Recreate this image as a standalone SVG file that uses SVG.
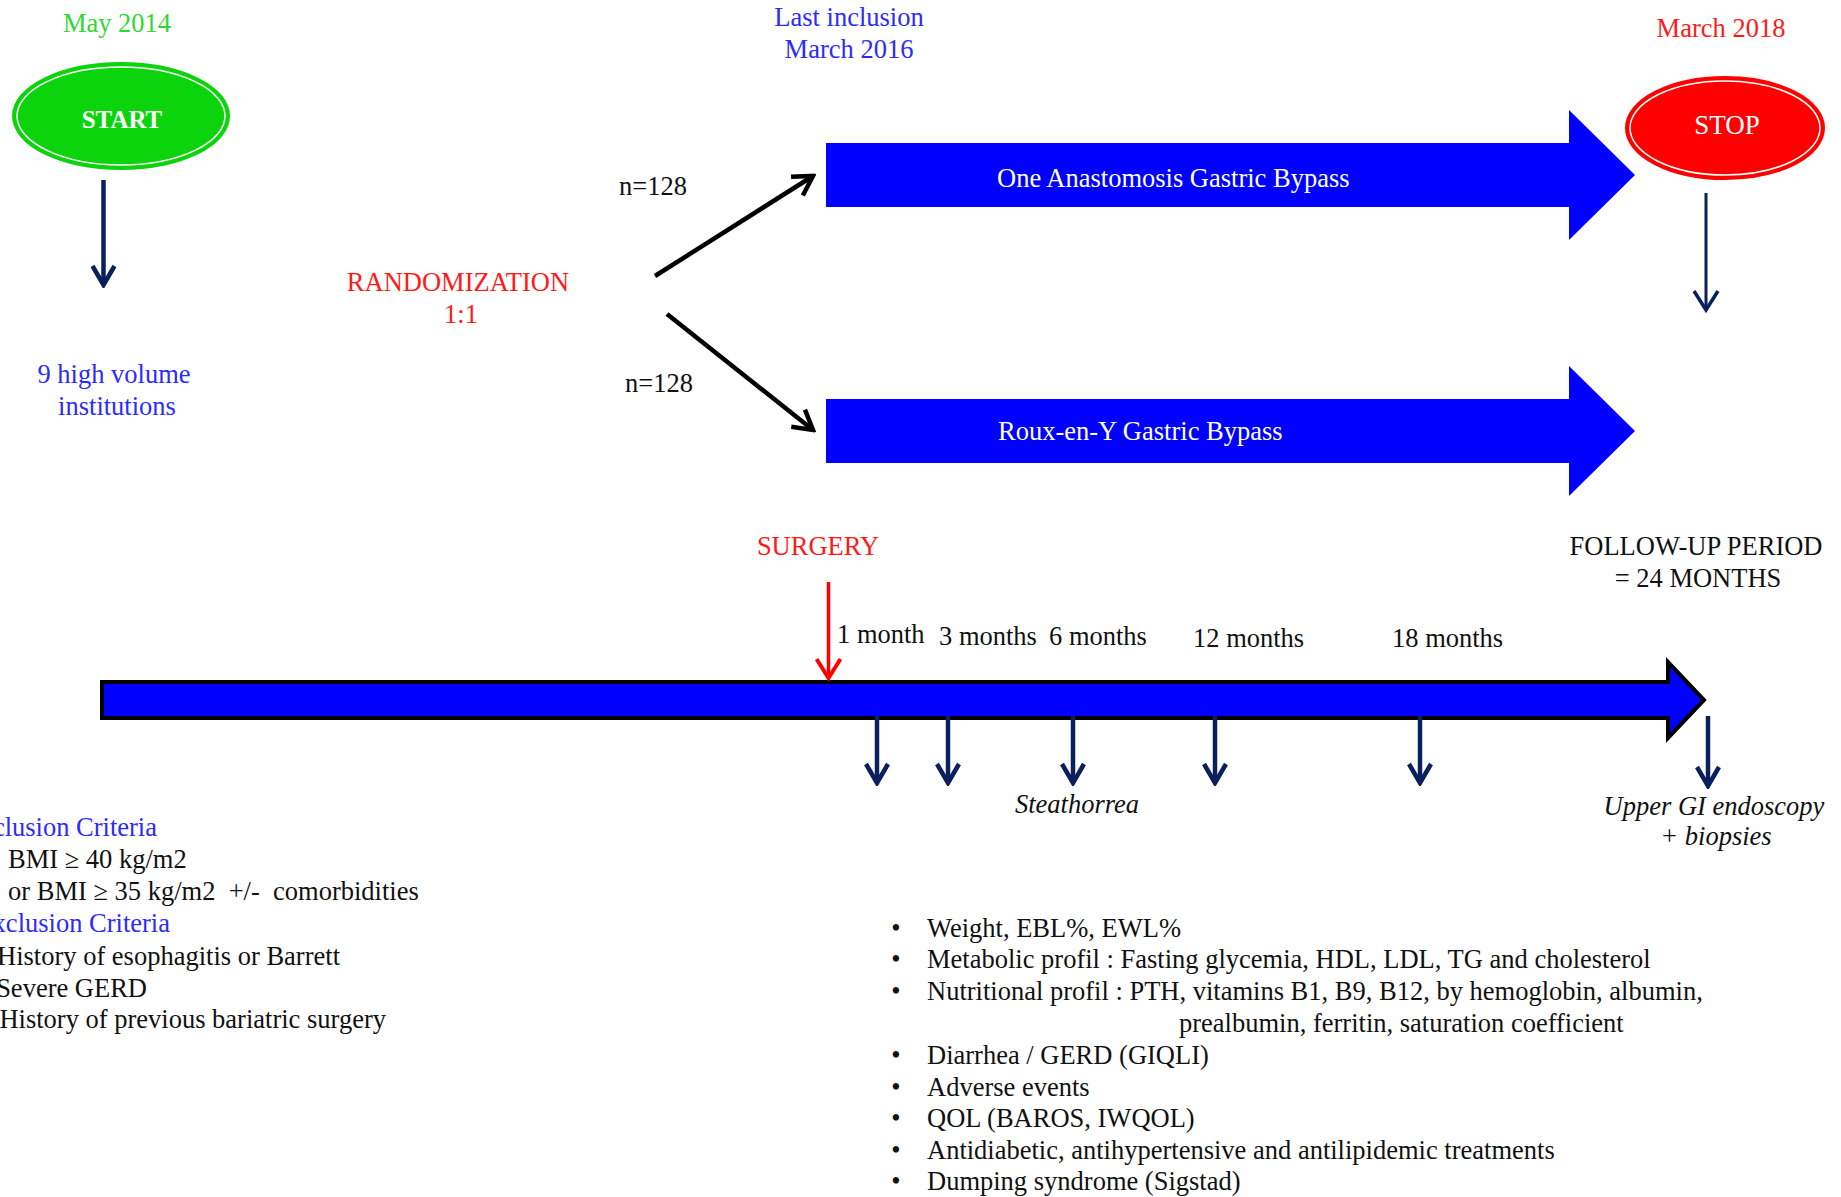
<svg xmlns="http://www.w3.org/2000/svg" width="1841" height="1197" viewBox="0 0 1841 1197">
<defs>
<style>
text{font-family:"Liberation Serif","Times New Roman",serif;font-size:26.5px;}
.blk{fill:#111;}
.blue{fill:#2b2bff;}
.red{fill:#ff1a1a;}
.green{fill:#2fd82f;}
.wht{fill:#fff;}
.it{font-style:italic;}
.mid{text-anchor:middle;}
.end{text-anchor:end;}
.navy{stroke:#0b1f5c;stroke-width:4.5;fill:none;}
.navyt{stroke:#0b1f5c;stroke-width:3;fill:none;}
.blkarr{stroke:#000;stroke-width:4.5;fill:none;}
.redarr{stroke:#ff0000;stroke-width:3.5;fill:none;}
.band{fill:#0000ff;}
</style>
<marker id="mNavy" viewBox="0 0 24 26" refX="21" refY="13" markerWidth="24" markerHeight="26" markerUnits="userSpaceOnUse" orient="auto">
<path d="M2,2 L21,13 L2,24" fill="none" stroke="#0b1f5c" stroke-width="4.5" stroke-linejoin="miter"/>
</marker>
<marker id="mNavyT" viewBox="0 0 24 28" refX="21" refY="14" markerWidth="24" markerHeight="28" markerUnits="userSpaceOnUse" orient="auto">
<path d="M2,2 L21,14 L2,26" fill="none" stroke="#0b1f5c" stroke-width="3.5"/>
</marker>
<marker id="mBlack" viewBox="0 0 24 26" refX="21" refY="13" markerWidth="24" markerHeight="26" markerUnits="userSpaceOnUse" orient="auto">
<path d="M2,2 L21,13 L2,24" fill="none" stroke="#000" stroke-width="4.5"/>
</marker>
<marker id="mRed" viewBox="0 0 24 28" refX="21" refY="14" markerWidth="24" markerHeight="28" markerUnits="userSpaceOnUse" orient="auto">
<path d="M2,2 L21,14 L2,26" fill="none" stroke="#ff0000" stroke-width="4"/>
</marker>
</defs>
<rect x="0" y="0" width="1841" height="1197" fill="#fff"/>

<g id="date-start"><text class="green mid" x="117" y="32">May 2014</text></g>
<g id="start">
<ellipse cx="121" cy="116" rx="107" ry="52" fill="#0cd40c" stroke="#0cd40c" stroke-width="4"/>
<ellipse cx="121" cy="116" rx="104" ry="49" fill="none" stroke="#fff" stroke-width="1.5"/>
<text class="wht mid" x="122" y="128" style="font-weight:bold;font-size:25px">START</text>
</g>
<g id="institutions">
<text class="blue mid" x="114" y="383">9 high volume</text>
<text class="blue mid" x="117" y="415">institutions</text>
</g>
<g id="randomization">
<text class="red mid" x="458" y="291">RANDOMIZATION</text>
<text class="red mid" x="461" y="323">1:1</text>
</g>
<g id="last-inclusion">
<text class="blue mid" x="849" y="26">Last inclusion</text>
<text class="blue mid" x="849" y="58">March 2016</text>
</g>
<g id="date-stop"><text class="red mid" x="1721" y="37">March 2018</text></g>
<g id="stop">
<ellipse cx="1725" cy="128" rx="98" ry="50" fill="#ff0000" stroke="#ff0000" stroke-width="4"/>
<ellipse cx="1725" cy="128" rx="95" ry="47" fill="none" stroke="#fff" stroke-width="1.5"/>
<text class="wht mid" x="1727" y="134" style="font-size:27px">STOP</text>
</g>
<g id="labels-n">
<text class="blk" x="619" y="195">n=128</text>
<text class="blk" x="625" y="392">n=128</text>
</g>
<g id="oagb">
<polygon class="band" points="826,143 1569,143 1569,110 1635,175 1569,240 1569,207 826,207"/>
<text class="wht" x="997" y="187">One Anastomosis Gastric Bypass</text>
</g>
<g id="rygb">
<polygon class="band" points="826,399 1569,399 1569,366 1635,431 1569,496 1569,463 826,463"/>
<text class="wht" x="998" y="440">Roux-en-Y Gastric Bypass</text>
</g>
<g id="surgery"><text class="red mid" x="818" y="555">SURGERY</text></g>
<g id="follow-up">
<text class="blk mid" x="1696" y="555">FOLLOW-UP PERIOD</text>
<text class="blk mid" x="1698" y="587">= 24 MONTHS</text>
</g>
<g id="timeline">
<polygon points="102,682 1668,682 1668,662 1704,700 1668,738 1668,718 102,718" fill="#0000ff" stroke="#000" stroke-width="4"/>
</g>
<g id="months">
<text class="blk" x="837" y="643">1 month</text>
<text class="blk" x="939" y="645">3 months</text>
<text class="blk" x="1049" y="645">6 months</text>
<text class="blk" x="1193" y="647">12 months</text>
<text class="blk" x="1392" y="647">18 months</text>
</g>
<g id="steathorrea"><text class="blk it mid" x="1077" y="813">Steathorrea</text></g>
<g id="endoscopy">
<text class="blk it mid" x="1714" y="815">Upper GI endoscopy</text>
<text class="blk it mid" x="1716" y="845">+ biopsies</text>
</g>
<g id="criteria">
<text class="blue end" x="157" y="836">Inclusion Criteria</text>
<text class="blk" x="8" y="868">BMI ≥ 40 kg/m2</text>
<text class="blk" x="8" y="900" xml:space="preserve">or BMI ≥ 35 kg/m2  +/-  comorbidities</text>
<text class="blue end" x="170" y="932">Exclusion Criteria</text>
<text class="blk end" x="340" y="965">History of esophagitis or Barrett</text>
<text class="blk end" x="147" y="997">Severe GERD</text>
<text class="blk end" x="386" y="1028">History of previous bariatric surgery</text>
</g>
<g id="outcomes">
<text class="blk mid" x="896" y="937">•</text>
<text class="blk" x="927" y="937">Weight, EBL%, EWL%</text>
<text class="blk mid" x="896" y="968">•</text>
<text class="blk" x="927" y="968">Metabolic profil : Fasting glycemia, HDL, LDL, TG and cholesterol</text>
<text class="blk mid" x="896" y="1000">•</text>
<text class="blk" x="927" y="1000">Nutritional profil : PTH, vitamins B1, B9, B12, by hemoglobin, albumin,</text>
<text class="blk" x="1179" y="1032">prealbumin, ferritin, saturation coefficient</text>
<text class="blk mid" x="896" y="1064">•</text>
<text class="blk" x="927" y="1064">Diarrhea / GERD (GIQLI)</text>
<text class="blk mid" x="896" y="1096">•</text>
<text class="blk" x="927" y="1096">Adverse events</text>
<text class="blk mid" x="896" y="1127">•</text>
<text class="blk" x="927" y="1127">QOL (BAROS, IWQOL)</text>
<text class="blk mid" x="896" y="1159">•</text>
<text class="blk" x="927" y="1159">Antidiabetic, antihypertensive and antilipidemic treatments</text>
<text class="blk mid" x="896" y="1190">•</text>
<text class="blk" x="927" y="1190">Dumping syndrome (Sigstad)</text>
</g>

<g id="connectors">
<line class="navy" x1="103.5" y1="180" x2="103.5" y2="285" marker-end="url(#mNavy)"/>
<line class="navyt" x1="1706" y1="193" x2="1706" y2="310" marker-end="url(#mNavyT)"/>
<line class="blkarr" x1="655" y1="276" x2="813" y2="176" marker-end="url(#mBlack)"/>
<line class="blkarr" x1="667" y1="314" x2="813" y2="430" marker-end="url(#mBlack)"/>
<line class="redarr" x1="828.5" y1="582" x2="828.5" y2="678" marker-end="url(#mRed)"/>
<line class="navy" x1="877" y1="716" x2="877" y2="783" marker-end="url(#mNavy)"/>
<line class="navy" x1="948" y1="716" x2="948" y2="783" marker-end="url(#mNavy)"/>
<line class="navy" x1="1073" y1="716" x2="1073" y2="783" marker-end="url(#mNavy)"/>
<line class="navy" x1="1215" y1="716" x2="1215" y2="783" marker-end="url(#mNavy)"/>
<line class="navy" x1="1420" y1="716" x2="1420" y2="783" marker-end="url(#mNavy)"/>
<line class="navy" x1="1708" y1="716" x2="1708" y2="786" marker-end="url(#mNavy)"/>
</g>
</svg>
